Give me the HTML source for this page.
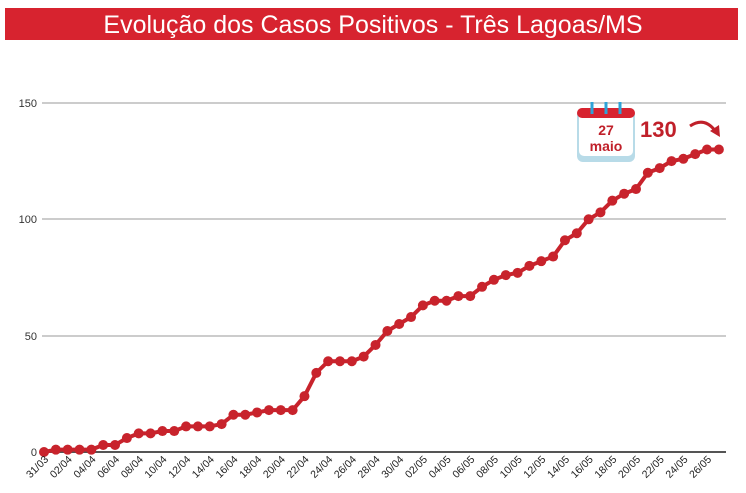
<!DOCTYPE html><html><head><meta charset="utf-8"><style>body{margin:0;background:#fff;width:746px;height:488px;overflow:hidden;font-family:"Liberation Sans",sans-serif}</style></head><body>
<svg width="746" height="488" xmlns="http://www.w3.org/2000/svg">
<rect x="5" y="8" width="733" height="32" fill="#d7232f"/>
<text x="373" y="33" text-anchor="middle" font-size="25" fill="#fff" font-family="Liberation Sans,sans-serif">Evolução dos Casos Positivos - Três Lagoas/MS</text>
<g stroke="#bbb" stroke-width="1.5">
<line x1="42" y1="103" x2="726" y2="103"/><line x1="42" y1="219" x2="726" y2="219"/><line x1="42" y1="336" x2="726" y2="336"/></g>
<line x1="42" y1="452" x2="726" y2="452" stroke="#555" stroke-width="2"/>
<g font-size="11" fill="#333" text-anchor="end"><text x="37" y="107">150</text><text x="37" y="223">100</text><text x="37" y="340">50</text><text x="37" y="456">0</text></g>
<g id="g"></g>
<g transform="translate(577,102)">
<rect x="0" y="6" width="58" height="54" rx="6" fill="#b8dbe8"/>
<rect x="2" y="8" width="54" height="46" rx="5" fill="#fff"/>
<rect x="0" y="6" width="58" height="10" rx="5" fill="#d7232f"/>
<g stroke="#2ea3d8" stroke-width="3"><line x1="15" y1="0" x2="15" y2="12"/><line x1="29" y1="0" x2="29" y2="12"/><line x1="43" y1="0" x2="43" y2="12"/></g>
<text x="29" y="33" text-anchor="middle" font-size="14" font-weight="bold" fill="#c0202a">27</text>
<text x="29" y="49" text-anchor="middle" font-size="14" font-weight="bold" fill="#c0202a">maio</text></g>
<text x="640" y="137" font-size="22" font-weight="bold" fill="#c0202a">130</text>
<path d="M690 126 Q705 116 716 132" stroke="#c0202a" stroke-width="3" fill="none"/>
<polygon points="710,131 720,137 719,125" fill="#c0202a"/>
</svg>
<script>
var v=[0,1,1,1,1,3,3,6,8,8,9,9,11,11,11,12,16,16,17,18,18,18,24,34,39,39,39,41,46,52,55,58,63,65,65,67,67,71,74,76,77,80,82,84,91,94,100,103,108,111,113,120,122,125,126,128,130,130];
var g=document.getElementById('g'),pts=[],h='';
function lab(i){var d=new Date(2020,2,31+i);return ('0'+d.getDate()).slice(-2)+'/'+('0'+(d.getMonth()+1)).slice(-2);}
for(var i=0;i<v.length;i++){var x=44+i*11.84,y=452-v[i]*2.327;pts.push(x+','+y);h+='<circle cx="'+x+'" cy="'+y+'" r="5" fill="#c8232c"/>';
if(i%2==0&&i<57)h+='<text x="'+(x+5)+'" y="460" font-size="10.5" fill="#222" text-anchor="end" transform="rotate(-45 '+(x+5)+' 460)">'+lab(i)+'</text>';}
g.innerHTML='<polyline points="'+pts.join(' ')+'" fill="none" stroke="#c8232c" stroke-width="4" stroke-linejoin="round"/>'+h;
</script>
</body></html>
